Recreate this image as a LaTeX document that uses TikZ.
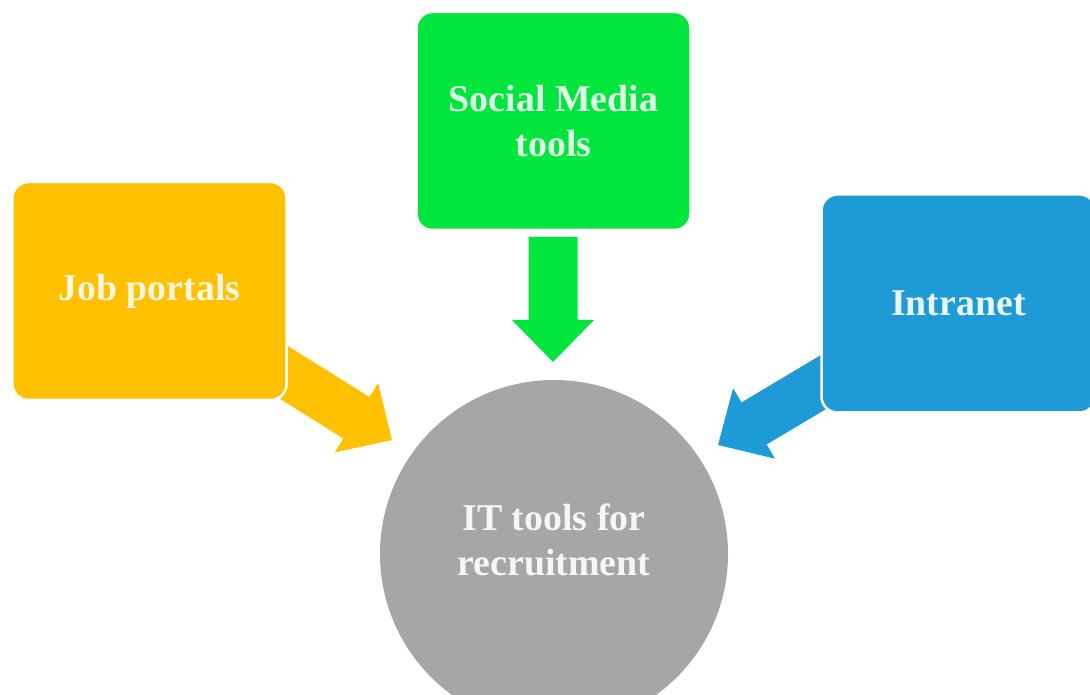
\documentclass[tikz,border=0pt]{standalone}
\usepackage{fontspec}
\setmainfont{Liberation Serif}
\usetikzlibrary{calc}
\definecolor{jobc}{HTML}{FFC000}
\definecolor{socc}{HTML}{00E63C}
\definecolor{intc}{HTML}{1E9BD7}
\definecolor{hubc}{HTML}{A6A6A6}
\newcommand{\blockarr}[2]{%
  \coordinate (#1-b) at ($(#1-t)!42bp!(#1-s)$);
  \fill[#2] ($(#1-s)!24.5bp!90:(#1-t)$) -- ($(#1-b)!24.5bp!90:(#1-t)$)
    -- ($(#1-b)!41bp!90:(#1-t)$) -- (#1-t) -- ($(#1-b)!41bp!-90:(#1-t)$)
    -- ($(#1-b)!24.5bp!-90:(#1-t)$) -- ($(#1-s)!24.5bp!-90:(#1-t)$) -- cycle;
}
\tikzset{
  box/.style={rectangle, rounded corners=16bp, minimum width=274bp, minimum height=218bp,
    draw=white, line width=2.5bp, inner sep=0pt, align=center,
    font=\bfseries\fontsize{38}{45}\selectfont},
  hubtxt/.style={align=center, inner sep=0pt, text=white!90!hubc,
    font=\bfseries\fontsize{38}{45}\selectfont}
}
\begin{document}
\begin{tikzpicture}[x=1bp,y=1bp]
\useasboundingbox (0,0) rectangle (1090,695);
\clip (0,0) rectangle (1090,695);
\fill[white] (0,0) rectangle (1090,695);
% arrow end points
\coordinate (ya-s) at (263.1,335.6);
\coordinate (ya-t) at (392,255);
\coordinate (ba-s) at (858.7,334);
\coordinate (ba-t) at (718,250);
\coordinate (ga-s) at (553,458);
\coordinate (ga-t) at (553,333);
\blockarr{ya}{jobc}
\blockarr{ba}{intc}
\blockarr{ga}{socc}
% boxes
\node[box, fill=jobc, text=white!88!jobc] (job) at (149.5,404) {Job portals};
\node[box, fill=socc, text=white!88!socc] (soc) at (553.5,574) {Social Media\\tools};
\node[box, fill=intc, text=white!90!intc] (intr) at (958.5,391.5) {Intranet};
% hub
\node[circle, fill=hubc, minimum size=348bp, inner sep=0pt] (hub) at (554,141) {};
\node[hubtxt] (hubtext) at ([yshift=14bp]hub.center) {IT tools for\\recruitment};
\end{tikzpicture}
\end{document}
